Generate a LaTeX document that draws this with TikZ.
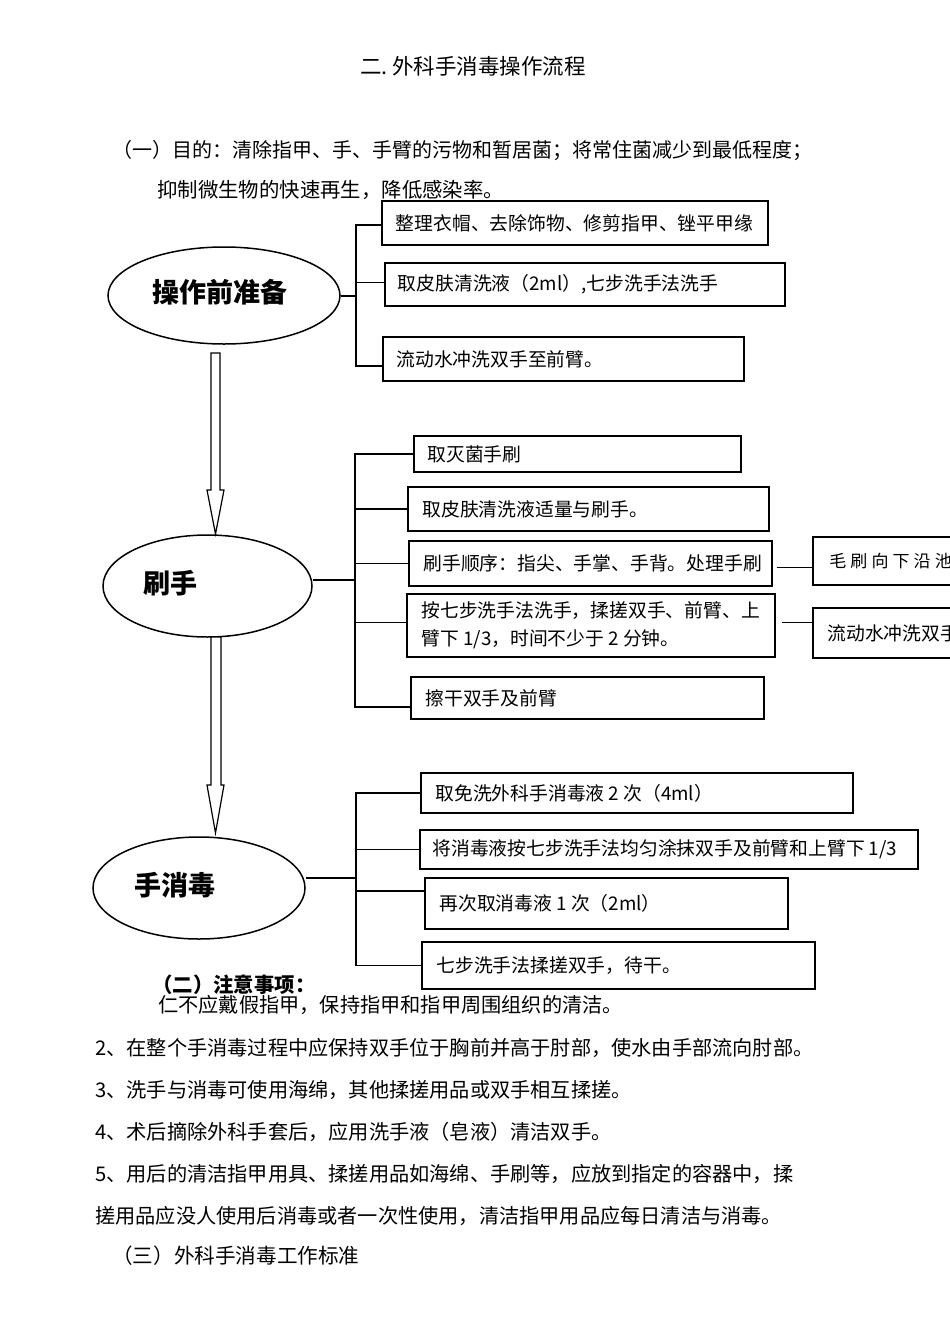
\documentclass[tikz,border=0pt]{standalone}
\usepackage{fontspec}
\setmainfont{Noto Sans CJK SC}
\usetikzlibrary{shapes.geometric,calc}
\tikzset{
  box/.style={draw, line width=1.6pt, inner sep=0pt},
  txt/.style={inner sep=0pt, anchor=west, font=\fontsize{18.8}{28}\selectfont, align=left},
  body/.style={inner sep=0pt, anchor=west, font=\fontsize{20.2}{24}\selectfont},
  headtxt/.style={inner sep=0pt, anchor=west, font=\fontsize{20.4}{24}\selectfont\bfseries},
  oval/.style={draw, ellipse, line width=1.5pt, inner sep=0pt},
  ovaltext/.style={inner sep=0pt, font=\fontsize{27}{30}\selectfont\bfseries},
  link/.style={line width=1.5pt},
  blockarrow/.style={draw, line width=1.2pt, fill=white, line join=miter}
}
\newcommand\mkbox[5]{%
  \pgfmathsetmacro\bw{#4-#2}\pgfmathsetmacro\bh{#5-#3}%
  \pgfmathsetmacro\bcx{(#2+#4)/2}\pgfmathsetmacro\bcy{(#3+#5)/2}%
  \node[box, minimum width=\bw pt, minimum height=\bh pt] (#1) at (\bcx,\bcy) {};}
\begin{document}
\begin{tikzpicture}[x=1pt,y=-1pt]
\useasboundingbox (0,0) rectangle (950,1344);
\clip (0,0) rectangle (950,1344);

% title and purpose
\node[inner sep=0pt, anchor=west, font=\fontsize{21.5}{24}\selectfont] (title) at (360,66) {二.~外科手消毒操作流程};
\node[body, font=\fontsize{20}{24}\selectfont] (aim1) at (112,151) {（一）目的：清除指甲、手、手臂的污物和暂居菌；将常住菌减少到最低程度；};
\node[body, font=\fontsize{20.4}{24}\selectfont] (aim2) at (157,190) {抑制微生物的快速再生，降低感染率。};

% ---------- section 1 ----------
\node[oval, minimum width=232pt, minimum height=97pt] (e1) at (224,295.5) {};
\node[ovaltext] (e1t) at (220,292) {操作前准备};
\mkbox{b11}{382}{201}{768}{245}
\mkbox{b12}{385}{263}{785}{306}
\mkbox{b13}{383}{337}{744}{381}
\node[txt] (b11t) at ([xshift=14.5pt]b11.west) {整理衣帽、去除饰物、修剪指甲、锉平甲缘};
\node[txt] (b12t) at ([xshift=13.5pt]b12.west) {取皮肤清洗液（2ml）,七步洗手法洗手};
\node[txt] (b13t) at ([xshift=14pt]b13.west) {流动水冲洗双手至前臂。};
\coordinate (j1) at (356,296);
\draw[link] (e1.east |- j1) -- (j1);
\draw[link] (j1) |- ([yshift=-2pt]b11.west);
\draw[link] (j1) |- ([yshift=2pt]b12.west);
\draw[link] (j1) |- ([yshift=-7pt]b13.west);

% arrow 1
\draw[blockarrow] (211,353) -- (220,353) -- (220,490) -- (224,490) -- (215.5,534)
  -- (207,490) -- (211,490) -- cycle;

% ---------- section 2 ----------
\node[oval, minimum width=209pt, minimum height=102pt] (e2) at (207.5,586) {};
\node[ovaltext] (e2t) at (170,583) {刷手};
\mkbox{b21}{414}{436}{741}{472}
\mkbox{b22}{408}{487}{769}{531}
\mkbox{b23}{409}{541}{772}{586}
\mkbox{b24}{407}{594}{775}{657}
\mkbox{b25}{411}{677}{764}{719}
\node[txt] (b21t) at ([xshift=14pt]b21.west) {取灭菌手刷};
\node[txt] (b22t) at ([xshift=15pt]b22.west) {取皮肤清洗液适量与刷手。};
\node[txt] (b23t) at ([xshift=15pt]b23.west) {刷手顺序：指尖、手掌、手背。处理手刷};
\node[txt] (b24t) at ([xshift=15pt]b24.west) {按七步洗手法洗手，揉搓双手、前臂、上\\臂下 1/3，时间不少于 2 分钟。};
\node[txt] (b25t) at ([xshift=15pt]b25.west) {擦干双手及前臂};
\coordinate (j2) at (355,580);
\draw[link] (e2.east |- j2) -- (j2);
\draw[link] (j2) |- (b21.west);
\draw[link] (j2) |- (b22.west);
\draw[link] (j2) |- (b23.west);
\draw[link] (j2) |- ([yshift=3pt]b24.west);
\draw[link] (j2) |- ([yshift=-9pt]b25.west);

% right-hand boxes (cut by the page edge)
\mkbox{ra}{813}{537}{995}{585}
\mkbox{rb}{813}{608}{995}{658}
\node[txt, font=\fontsize{17}{20}\selectfont\addfontfeature{LetterSpace=24}] (rat) at ([xshift=17pt]ra.west) {毛刷向下沿池};
\node[txt] (rbt) at ([xshift=15pt]rb.west) {流动水冲洗双手};
\draw[link] ([xshift=4pt,yshift=-4pt]b23.east) -- ([yshift=-4pt]b23.east -| ra.west);
\draw[link] ([xshift=6pt,yshift=3pt]b24.east) -- ([yshift=3pt]b24.east -| rb.west);

% arrow 2
\draw[blockarrow] (211,637) -- (221,637) -- (221,785) -- (224,785) -- (215.5,833)
  -- (207,785) -- (211,785) -- cycle;

% ---------- section 3 ----------
\node[oval, minimum width=212pt, minimum height=102pt] (e3) at (199,888) {};
\node[ovaltext] (e3t) at (175,885) {手消毒};
\mkbox{b31}{421}{773}{853}{813}
\mkbox{b32}{420}{830}{918}{869}
\mkbox{b33}{425}{878}{788}{929}
\mkbox{b34}{422}{942}{815}{989}
\node[txt] (b31t) at ([xshift=15pt]b31.west) {取免洗外科手消毒液 2 次（4ml）};
\node[txt] (b32t) at ([xshift=13pt]b32.west) {将消毒液按七步洗手法均匀涂抹双手及前臂和上臂下 1/3};
\node[txt] (b33t) at ([xshift=15pt]b33.west) {再次取消毒液 1 次（2ml）};
\node[txt] (b34t) at ([xshift=15pt]b34.west) {七步洗手法揉搓双手，待干。};
\coordinate (j3) at (356,878);
\draw[link] (e3.east |- j3) -- (j3);
\draw[line width=2.2pt] (j3) |- (b31.west);
\draw[link] (j3) |- (b32.west);
\draw[link] (j3) |- ([yshift=12.5pt]b33.west);
\draw[link] (j3) |- (b34.west);

% ---------- notes ----------
\node[headtxt] (n0) at (152,985) {（二）注意事项：};
\node[body] (n1) at (158,1005) {仁不应戴假指甲，保持指甲和指甲周围组织的清洁。};
\node[body] (n2) at (95,1048) {2、在整个手消毒过程中应保持双手位于胸前并高于肘部，使水由手部流向肘部。};
\node[body] (n3) at (95,1090) {3、洗手与消毒可使用海绵，其他揉搓用品或双手相互揉搓。};
\node[body] (n4) at (95,1132) {4、术后摘除外科手套后，应用洗手液（皂液）清洁双手。};
\node[body] (n5) at (95,1174) {5、用后的清洁指甲用具、揉搓用品如海绵、手刷等，应放到指定的容器中，揉};
\node[body] (n6) at (95,1216) {搓用品应没人使用后消毒或者一次性使用，清洁指甲用品应每日清洁与消毒。};
\node[body, font=\fontsize{20.6}{24}\selectfont] (n7) at (112,1256) {（三）外科手消毒工作标准};
\end{tikzpicture}
\end{document}
